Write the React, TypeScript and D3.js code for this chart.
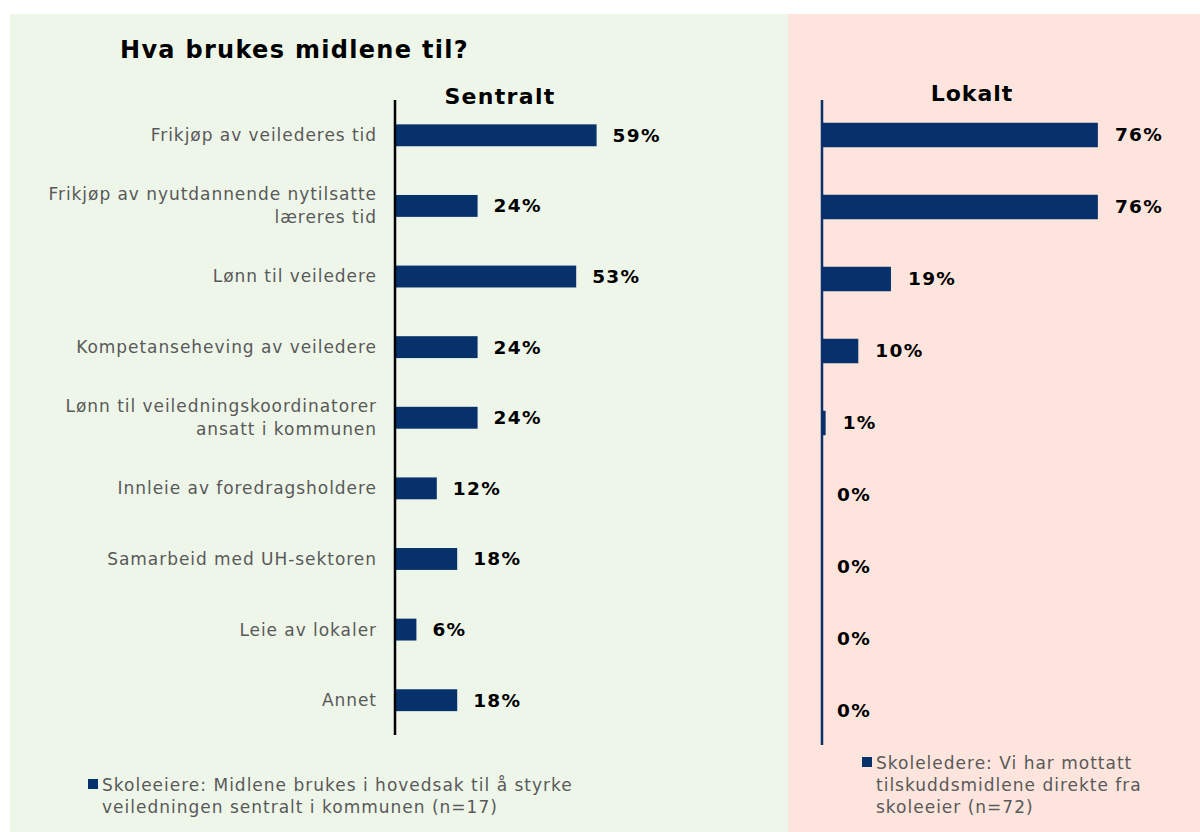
import { useEffect, useRef } from 'react'
import * as d3 from 'd3'

const CATEGORIES = [
  'Frikjøp av veilederes tid',
  'Frikjøp av nyutdannende nytilsatte\nlæreres tid',
  'Lønn til veiledere',
  'Kompetanseheving av veiledere',
  'Lønn til veiledningskoordinatorer\nansatt i kommunen',
  'Innleie av foredragsholdere',
  'Samarbeid med UH-sektoren',
  'Leie av lokaler',
  'Annet',
]
const SENTRALT = [59, 24, 53, 24, 24, 12, 18, 6, 18]
const LOKALT = [76, 76, 19, 10, 1, 0, 0, 0, 0]

const LEGEND_SENTRALT = ['Skoleeiere: Midlene brukes i hovedsak til å styrke', 'veiledningen sentralt i kommunen (n=17)']
const LEGEND_LOKALT = ['Skoleledere: Vi har mottatt', 'tilskuddsmidlene direkte fra', 'skoleeier (n=72)']

const W = 1200
const H = 832
const BAR = '#07316b'
const GREY = '#595959'
const FONT = '"DejaVu Sans", Verdana, sans-serif'

export default function App() {
  const svgRef = useRef<SVGSVGElement>(null)

  useEffect(() => {
    const svg = d3.select(svgRef.current)
    svg.selectAll('*').remove()
    svg.attr('width', W).attr('height', H).style('font-family', FONT)

    // panels
    svg.append('rect').attr('x', 0).attr('y', 0).attr('width', W).attr('height', H).attr('fill', '#ffffff')
    svg.append('rect').attr('x', 10).attr('y', 14).attr('width', 778).attr('height', H - 14).attr('fill', '#eef6ea')
    svg.append('rect').attr('x', 788).attr('y', 14).attr('width', W - 788).attr('height', H - 14).attr('fill', '#fde5dd')

    svg.append('text')
      .attr('x', 120).attr('y', 58)
      .attr('font-size', 24).attr('font-weight', 'bold').attr('fill', '#000')
      .attr('letter-spacing', 1.3)
      .text('Hva brukes midlene til?')

    // --- Sentralt ---
    const yS = d3.scaleBand<string>().domain(CATEGORIES).range([100, 735.5]).paddingInner(0.69).paddingOuter(0.345)
    const xS = d3.scaleLinear().domain([0, 100]).range([396, 736])
    const gS = svg.append('g')

    gS.append('text')
      .attr('x', 500).attr('y', 104).attr('text-anchor', 'middle')
      .attr('font-size', 22).attr('font-weight', 'bold').attr('letter-spacing', 1.3).text('Sentralt')

    gS.selectAll('rect.bar').data(SENTRALT).join('rect')
      .attr('class', 'bar')
      .attr('x', xS(0))
      .attr('y', (_, i) => yS(CATEGORIES[i])!)
      .attr('width', d => xS(d) - xS(0))
      .attr('height', yS.bandwidth())
      .attr('fill', BAR)

    gS.selectAll('text.val').data(SENTRALT).join('text')
      .attr('class', 'val')
      .attr('x', d => xS(d) + 16)
      .attr('y', (_, i) => yS(CATEGORIES[i])! + yS.bandwidth() / 2)
      .attr('dy', '0.35em')
      .attr('font-size', 18.5).attr('font-weight', 'bold').attr('fill', '#000')
      .attr('letter-spacing', 1.3)
      .text(d => `${d}%`)

    const lab = gS.selectAll('text.cat').data(CATEGORIES).join('text')
      .attr('class', 'cat')
      .attr('text-anchor', 'end')
      .attr('font-size', 17).attr('fill', GREY)
      .attr('letter-spacing', 0.95)
    lab.each(function (d) {
      const lines = d.split('\n')
      const cy = yS(d)! + yS.bandwidth() / 2
      const t = d3.select(this)
      lines.forEach((ln, j) => {
        t.append('tspan')
          .attr('x', 377)
          .attr('y', cy + (j - (lines.length - 1) / 2) * 23)
          .attr('dy', '0.35em')
          .text(ln)
      })
    })

    gS.append('line')
      .attr('x1', 395).attr('x2', 395).attr('y1', 100).attr('y2', 735)
      .attr('stroke', '#000').attr('stroke-width', 2.5)

    // --- Lokalt ---
    const yL = d3.scaleBand<string>().domain(CATEGORIES).range([99, 747]).paddingInner(0.66).paddingOuter(0.33)
    const xL = d3.scaleLinear().domain([0, 100]).range([822, 1185])
    const gL = svg.append('g')

    gL.append('text')
      .attr('x', 972).attr('y', 101).attr('text-anchor', 'middle')
      .attr('font-size', 22).attr('font-weight', 'bold').attr('letter-spacing', 1).text('Lokalt')

    gL.selectAll('rect.bar').data(LOKALT).join('rect')
      .attr('class', 'bar')
      .attr('x', xL(0))
      .attr('y', (_, i) => yL(CATEGORIES[i])!)
      .attr('width', d => xL(d) - xL(0))
      .attr('height', yL.bandwidth())
      .attr('fill', BAR)

    gL.selectAll('text.val').data(LOKALT).join('text')
      .attr('class', 'val')
      .attr('x', d => xL(d) + (d === 0 ? 15 : 17))
      .attr('y', (_, i) => yL(CATEGORIES[i])! + yL.bandwidth() / 2)
      .attr('dy', '0.35em')
      .attr('font-size', 18.5).attr('font-weight', 'bold').attr('fill', '#000')
      .attr('letter-spacing', 1.3)
      .text(d => `${d}%`)

    gL.append('line')
      .attr('x1', 822).attr('x2', 822).attr('y1', 100).attr('y2', 745)
      .attr('stroke', BAR).attr('stroke-width', 2.5)

    // --- legends ---
    const legend = (x: number, y: number, lines: string[]) => {
      const g = svg.append('g')
      g.append('rect').attr('x', x).attr('y', y - 12).attr('width', 10).attr('height', 10).attr('fill', BAR)
      g.selectAll('text').data(lines).join('text')
        .attr('x', x + 14)
        .attr('y', (_, i) => y + i * 22)
        .attr('font-size', 17).attr('fill', GREY)
        .attr('letter-spacing', 1)
        .text(d => d)
    }
    legend(88, 791, LEGEND_SENTRALT)
    legend(862, 769, LEGEND_LOKALT)
  }, [])

  return (
    <div style={{ position: 'absolute', left: 0, top: 0 }}>
      <svg ref={svgRef} style={{ display: 'block' }} />
    </div>
  )
}
